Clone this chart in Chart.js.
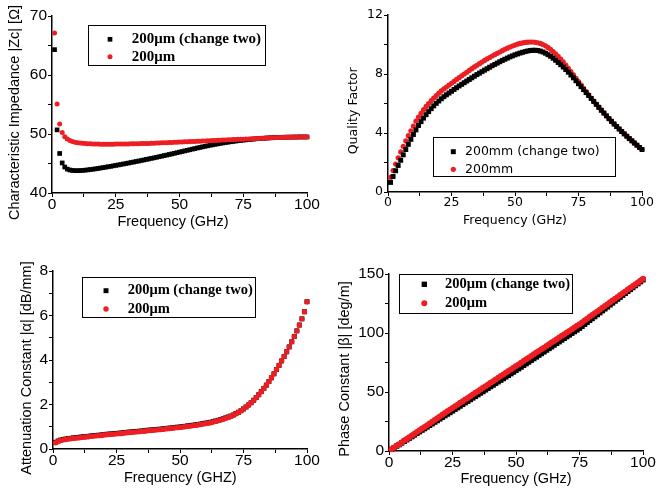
<!DOCTYPE html>
<html><head><meta charset="utf-8">
<script src="https://cdn.jsdelivr.net/npm/chart.js@4.4.0/dist/chart.umd.min.js"></script>
<style>
html,body{margin:0;padding:0;background:#fff;}
#wrap{position:relative;width:669px;height:490px;overflow:hidden;background:#fff;}
canvas{position:absolute;}
</style></head><body>
<div id="wrap">
<canvas id="c1" width="330" height="245" style="left:0;top:0"></canvas>
<canvas id="c2" width="339" height="245" style="left:330px;top:0"></canvas>
<canvas id="c3" width="330" height="245" style="left:0;top:245px"></canvas>
<canvas id="c4" width="339" height="245" style="left:330px;top:245px"></canvas>
</div>
<script>
// ---------- DATA ----------
const freq = [1,2,3,4,5,6,7,8,9,10,11,12,13,14,15,16,17,18,19,20,21,22,23,24,25,26,27,28,29,30,31,32,33,34,35,36,37,38,39,40,41,42,43,44,45,46,47,48,49,50,51,52,53,54,55,56,57,58,59,60,61,62,63,64,65,66,67,68,69,70,71,72,73,74,75,76,77,78,79,80,81,82,83,84,85,86,87,88,89,90,91,92,93,94,95,96,97,98,99,100];

const labelsUm = ["200\u03bcm (change two)", "200\u03bcm"];
const labelsMm = ["200mm (change two)", "200mm"];

// Characteristic impedance |Zc| [Ohm]
const zcChangeTwo = [64.3,50.7,46.7,45.1,44.4,44.05,43.9,43.82,43.78,43.78,
 43.8,43.83,43.87,43.92,43.97,44.03,44.09,44.16,44.23,44.3,
 44.37,44.45,44.52,44.6,44.68,44.76,44.84,44.92,45.0,45.08,
 45.17,45.25,45.34,45.42,45.51,45.6,45.69,45.78,45.87,45.96,
 46.05,46.15,46.24,46.34,46.43,46.53,46.63,46.73,46.83,46.93,
 47.03,47.13,47.23,47.33,47.43,47.53,47.63,47.72,47.82,47.91,
 48.0,48.09,48.17,48.25,48.33,48.41,48.48,48.55,48.62,48.68,
 48.74,48.8,48.86,48.91,48.96,49.01,49.06,49.1,49.14,49.18,
 49.22,49.25,49.28,49.31,49.34,49.36,49.38,49.4,49.42,49.44,
 49.45,49.46,49.47,49.48,49.49,49.49,49.5,49.5,49.5,49.5];
const zcRef = [67.1,55.1,51.7,50.25,49.55,49.15,48.9,48.74,48.62,48.53,
 48.47,48.42,48.38,48.35,48.33,48.31,48.3,48.29,48.28,48.28,
 48.28,48.28,48.28,48.28,48.29,48.29,48.3,48.3,48.31,48.32,
 48.33,48.34,48.35,48.36,48.37,48.38,48.4,48.41,48.43,48.44,
 48.46,48.48,48.5,48.51,48.53,48.55,48.57,48.59,48.61,48.63,
 48.65,48.67,48.69,48.71,48.73,48.75,48.77,48.79,48.81,48.83,
 48.85,48.87,48.89,48.91,48.93,48.95,48.97,48.99,49.01,49.03,
 49.05,49.07,49.09,49.11,49.13,49.15,49.17,49.19,49.21,49.23,
 49.25,49.27,49.29,49.31,49.33,49.35,49.37,49.39,49.41,49.42,
 49.43,49.44,49.45,49.46,49.47,49.47,49.48,49.48,49.49,49.49];

// Quality factor
const qChangeTwo = [0.65,1.05,1.44,1.80,2.15,2.52,2.88,3.23,3.57,3.90,
 4.21,4.51,4.77,5.01,5.24,5.45,5.65,5.84,6.01,6.17,
 6.32,6.46,6.59,6.71,6.83,6.95,7.07,7.19,7.30,7.41,
 7.52,7.63,7.74,7.85,7.96,8.06,8.16,8.26,8.36,8.46,
 8.56,8.65,8.74,8.83,8.92,9.00,9.08,9.16,9.23,9.30,
 9.36,9.42,9.47,9.52,9.56,9.59,9.61,9.61,9.59,9.55,
 9.49,9.41,9.31,9.20,9.07,8.93,8.78,8.63,8.47,8.30,
 8.12,7.93,7.74,7.54,7.34,7.14,6.94,6.74,6.54,6.34,
 6.14,5.94,5.74,5.54,5.35,5.16,4.97,4.79,4.61,4.44,
 4.27,4.10,3.94,3.78,3.62,3.47,3.32,3.17,3.02,2.88];
const qRef = [1.00,1.45,1.90,2.32,2.72,3.10,3.47,3.82,4.15,4.47,
 4.80,5.08,5.34,5.58,5.80,6.00,6.19,6.37,6.54,6.70,
 6.85,6.99,7.12,7.25,7.37,7.50,7.63,7.75,7.88,8.00,
 8.12,8.24,8.36,8.48,8.59,8.70,8.81,8.92,9.02,9.12,
 9.22,9.31,9.40,9.49,9.58,9.67,9.75,9.83,9.90,9.96,
 10.02,10.07,10.11,10.14,10.16,10.17,10.17,10.15,10.12,10.07,
 10.00,9.91,9.80,9.67,9.52,9.36,9.19,9.01,8.82,8.60,
 8.38,8.16,7.94,7.71,7.48,7.26,7.03,6.81,6.59,6.37,
 6.16,5.95,5.75,5.55,5.36,5.17,4.98,4.80,4.62,4.45,
 4.28,4.11,3.95,3.79,3.63,3.48,3.33,3.18,3.03,2.89];

// Attenuation constant |alpha| [dB/mm]
const alphaChangeTwo = [0.30,0.36,0.40,0.43,0.45,0.47,0.48,0.50,0.51,0.52,
 0.54,0.55,0.56,0.57,0.59,0.60,0.61,0.62,0.63,0.65,
 0.66,0.67,0.68,0.69,0.70,0.71,0.72,0.74,0.75,0.76,
 0.77,0.78,0.79,0.80,0.81,0.82,0.84,0.85,0.86,0.87,
 0.88,0.89,0.90,0.92,0.93,0.94,0.95,0.97,0.98,0.99,
 1.01,1.02,1.04,1.05,1.07,1.08,1.10,1.12,1.14,1.16,
 1.18,1.20,1.23,1.26,1.29,1.32,1.36,1.40,1.44,1.48,
 1.53,1.59,1.65,1.72,1.80,1.89,1.98,2.08,2.19,2.31,
 2.44,2.58,2.72,2.87,3.03,3.20,3.38,3.57,3.76,3.96,
 4.16,4.37,4.59,4.82,5.06,5.31,5.57,5.85,6.17,6.62];
const alphaRef = [0.28,0.34,0.38,0.41,0.43,0.45,0.46,0.48,0.49,0.50,
 0.52,0.53,0.54,0.55,0.57,0.58,0.59,0.60,0.61,0.63,
 0.64,0.65,0.66,0.67,0.68,0.69,0.70,0.72,0.73,0.74,
 0.75,0.76,0.77,0.78,0.79,0.80,0.82,0.83,0.84,0.85,
 0.86,0.87,0.88,0.90,0.91,0.92,0.93,0.95,0.96,0.97,
 0.99,1.00,1.02,1.03,1.05,1.06,1.08,1.10,1.12,1.14,
 1.16,1.18,1.21,1.24,1.27,1.30,1.34,1.38,1.42,1.47,
 1.52,1.58,1.65,1.72,1.80,1.89,1.98,2.08,2.19,2.31,
 2.44,2.58,2.72,2.87,3.03,3.20,3.38,3.57,3.76,3.96,
 4.16,4.37,4.59,4.82,5.06,5.31,5.57,5.85,6.17,6.62];

// Phase constant |beta| [deg/m]
const betaChangeTwo = [1.4,2.7,4.1,5.4,6.8,8.2,9.5,10.9,12.2,13.6,
 15.0,16.3,17.7,19.0,20.4,21.8,23.1,24.5,25.8,27.2,
 28.6,29.9,31.3,32.6,34.0,35.4,36.7,38.1,39.5,40.9,
 42.2,43.6,45.0,46.3,47.7,49.1,50.4,51.8,53.2,54.6,
 55.9,57.3,58.7,60.0,61.4,62.8,64.1,65.5,66.9,68.3,
 69.7,71.1,72.6,74.0,75.4,76.9,78.3,79.7,81.2,82.6,
 84.0,85.5,86.9,88.3,89.8,91.2,92.6,94.0,95.5,96.9,
 98.3,99.8,101.2,102.6,104.1,105.7,107.4,109.0,110.7,112.3,
 113.9,115.6,117.2,118.9,120.5,122.1,123.8,125.4,127.1,128.7,
 130.3,132.0,133.6,135.3,136.9,138.5,140.2,141.8,143.5,145.1];
const betaRef = [1.5,2.9,4.4,5.8,7.3,8.8,10.2,11.7,13.1,14.6,
 16.1,17.5,19.0,20.4,21.9,23.4,24.8,26.3,27.7,29.2,
 30.7,32.1,33.6,35.0,36.5,37.9,39.3,40.8,42.2,43.6,
 45.0,46.4,47.9,49.3,50.7,52.1,53.5,54.9,56.4,57.8,
 59.2,60.6,62.0,63.5,64.9,66.3,67.7,69.1,70.6,72.0,
 73.4,74.8,76.3,77.7,79.1,80.5,81.9,83.4,84.8,86.2,
 87.6,89.0,90.5,91.9,93.3,94.7,96.1,97.6,99.0,100.4,
 101.8,103.2,104.7,106.1,107.5,109.0,110.6,112.1,113.7,115.2,
 116.7,118.3,119.8,121.4,122.9,124.4,126.0,127.5,129.1,130.6,
 132.1,133.7,135.2,136.8,138.3,139.8,141.4,142.9,144.5,146.0];

// ---------- STYLE ----------
const RED = 'rgb(236,30,36)';
const BLACK = '#000';
const SANS = '"Liberation Sans", Arial, sans-serif';
const VERD = '"DejaVu Sans", Verdana, sans-serif';
const SERIF = '"Liberation Serif", "Times New Roman", serif';

const annot = {
  id: 'annot',
  afterDraw(chart, args, o) {
    const ctx = chart.ctx;
    ctx.save();
    ctx.fillStyle = '#000';
    (o.titles || []).forEach(t => {
      ctx.save();
      ctx.translate(t.x, t.y);
      if (t.rot) ctx.rotate(-Math.PI / 2);
      ctx.font = t.font;
      ctx.textAlign = 'center';
      ctx.textBaseline = 'middle';
      ctx.fillText(t.text, 0, 0);
      ctx.restore();
    });
    const L = o.legend;
    if (L) {
      ctx.strokeStyle = '#000';
      ctx.lineWidth = 1;
      ctx.strokeRect(L.x + 0.5, L.y + 0.5, L.w, L.h);
      L.rows.forEach((dsIndex, i) => {
        const ds = chart.data.datasets[dsIndex];
        const y = L.ys[i];
        ctx.fillStyle = ds.pointBackgroundColor;
        ctx.beginPath();
        if (ds.pointStyle === 'rect') {
          const s = ds.pointRadius * Math.SQRT1_2;
          ctx.rect(L.mx - s, y - s, 2 * s, 2 * s);
        } else {
          ctx.arc(L.mx, y, ds.pointRadius, 0, Math.PI * 2);
        }
        ctx.fill();
        ctx.fillStyle = '#000';
        ctx.font = L.font;
        ctx.textAlign = 'left';
        ctx.textBaseline = 'middle';
        ctx.fillText(ds.label, L.tx, y + (L.dy || 0));
      });
    }
    ctx.restore();
  }
};

function pts(arr) { return freq.map((f, i) => ({ x: f, y: arr[i] })); }

function makeChart(id, W, H, area, yCfg, tickFont, black, red, labels, order, titles, legend, sizes) {
  const datasets = [
    { label: labels[0], data: pts(black), pointStyle: 'rect', pointRadius: sizes[0],
      pointBackgroundColor: BLACK, pointBorderColor: BLACK, pointBorderWidth: 0,
      showLine: false, clip: false, order: order[0] },
    { label: labels[1], data: pts(red), pointStyle: 'circle', pointRadius: sizes[1],
      pointBackgroundColor: RED, pointBorderColor: RED, pointBorderWidth: 0,
      showLine: false, clip: false, order: order[1] }
  ];
  const axisCommon = {
    grid: { drawOnChartArea: false, color: '#000', tickLength: 4, lineWidth: 1 },
    border: { color: '#000', width: 1.5 }
  };
  return new Chart(document.getElementById(id), {
    type: 'scatter',
    data: { datasets },
    options: {
      responsive: false, animation: false, events: [],
      layout: { padding: { left: 0, top: area.t, right: W - area.r, bottom: 0 } },
      plugins: { legend: { display: false }, tooltip: { enabled: false },
        annot: { titles, legend } },
      scales: {
        x: Object.assign({}, axisCommon, {
          type: 'linear', min: 0, max: 100,
          ticks: { stepSize: 12.5, autoSkip: false, maxRotation: 0, color: '#000',
            padding: 0, font: tickFont,
            callback: v => (v % 25 === 0 ? String(v) : '') },
          afterFit: s => { s.height = H - area.b; }
        }),
        y: Object.assign({}, axisCommon, {
          type: 'linear', min: yCfg.min, max: yCfg.max,
          ticks: { stepSize: yCfg.minor, autoSkip: false, color: '#000', padding: 1,
            font: tickFont,
            callback: v => (Math.abs(v % yCfg.major) < 1e-9 ? String(v) : '') },
          afterFit: s => { s.width = area.l; }
        })
      }
    },
    plugins: [annot]
  });
}

const sansTick = { family: SANS, size: 15.5, lineHeight: 1 };
const verdTick = { family: VERD, size: 12.5, lineHeight: 1 };

makeChart('c1', 330, 245, { l: 52, r: 307, t: 16, b: 193 },
  { min: 40, max: 70, major: 10, minor: 5 }, sansTick, zcChangeTwo, zcRef, labelsUm, [1, 0],
  [ { text: 'Characteristic Impedance |Zc| [\u03a9]', x: 14.5, y: 112.5, rot: true, font: '14.5px ' + SANS },
    { text: 'Frequency (GHz)', x: 173, y: 222, font: '14.5px ' + SANS } ],
  { x: 88, y: 25, w: 177, h: 40, mx: 110, ys: [39.3, 56.7], tx: 131.7, font: 'bold 15px ' + SERIF, rows: [0, 1] },
  [3.3, 2.5]);

makeChart('c2', 339, 245, { l: 58, r: 312, t: 15, b: 192 },
  { min: 0, max: 12, major: 4, minor: 2 }, verdTick, qChangeTwo, qRef, labelsMm, [0, 1],
  [ { text: 'Quality Factor', x: 23.3, y: 110.8, rot: true, font: '12.5px ' + VERD },
    { text: 'Frequency (GHz)', x: 185, y: 220.7, font: '12.5px ' + VERD } ],
  { x: 103, y: 137, w: 182, h: 39, mx: 123.3, ys: [151.7, 169.3], tx: 135, font: '12.5px ' + VERD, rows: [0, 1] },
  [3.5, 2.6]);

makeChart('c3', 330, 245, { l: 53, r: 307, t: 26, b: 204 },
  { min: 0, max: 8, major: 2, minor: 1 }, sansTick, alphaChangeTwo, alphaRef, labelsUm, [1, 0],
  [ { text: 'Attenuation Constant |\u03b1| [dB/mm]', x: 27, y: 123, rot: true, font: '14.5px ' + SANS },
    { text: 'Frequency (GHZ)', x: 180.3, y: 233.3, font: '14.5px ' + SANS } ],
  { x: 82, y: 32, w: 173, h: 40, mx: 106, ys: [45.7, 64], tx: 127.7, font: 'bold 14.5px ' + SERIF, rows: [0, 1] },
  [3.5, 2.7]);

makeChart('c4', 339, 245, { l: 59, r: 313, t: 29, b: 206 },
  { min: 0, max: 150, major: 50, minor: 25 }, sansTick, betaChangeTwo, betaRef, labelsUm, [1, 0],
  [ { text: 'Phase Constant |\u03b2| [deg/m]', x: 14.5, y: 124, rot: true, font: '14.5px ' + SANS },
    { text: 'Frequency (GHz)', x: 186, y: 234.3, font: '14.5px ' + SANS } ],
  { x: 69, y: 29, w: 173, h: 39, mx: 94.3, ys: [39.3, 58.3], tx: 115, font: 'bold 14.5px ' + SERIF, rows: [0, 1] },
  [3.8, 3.0]);
</script>
</body></html>
